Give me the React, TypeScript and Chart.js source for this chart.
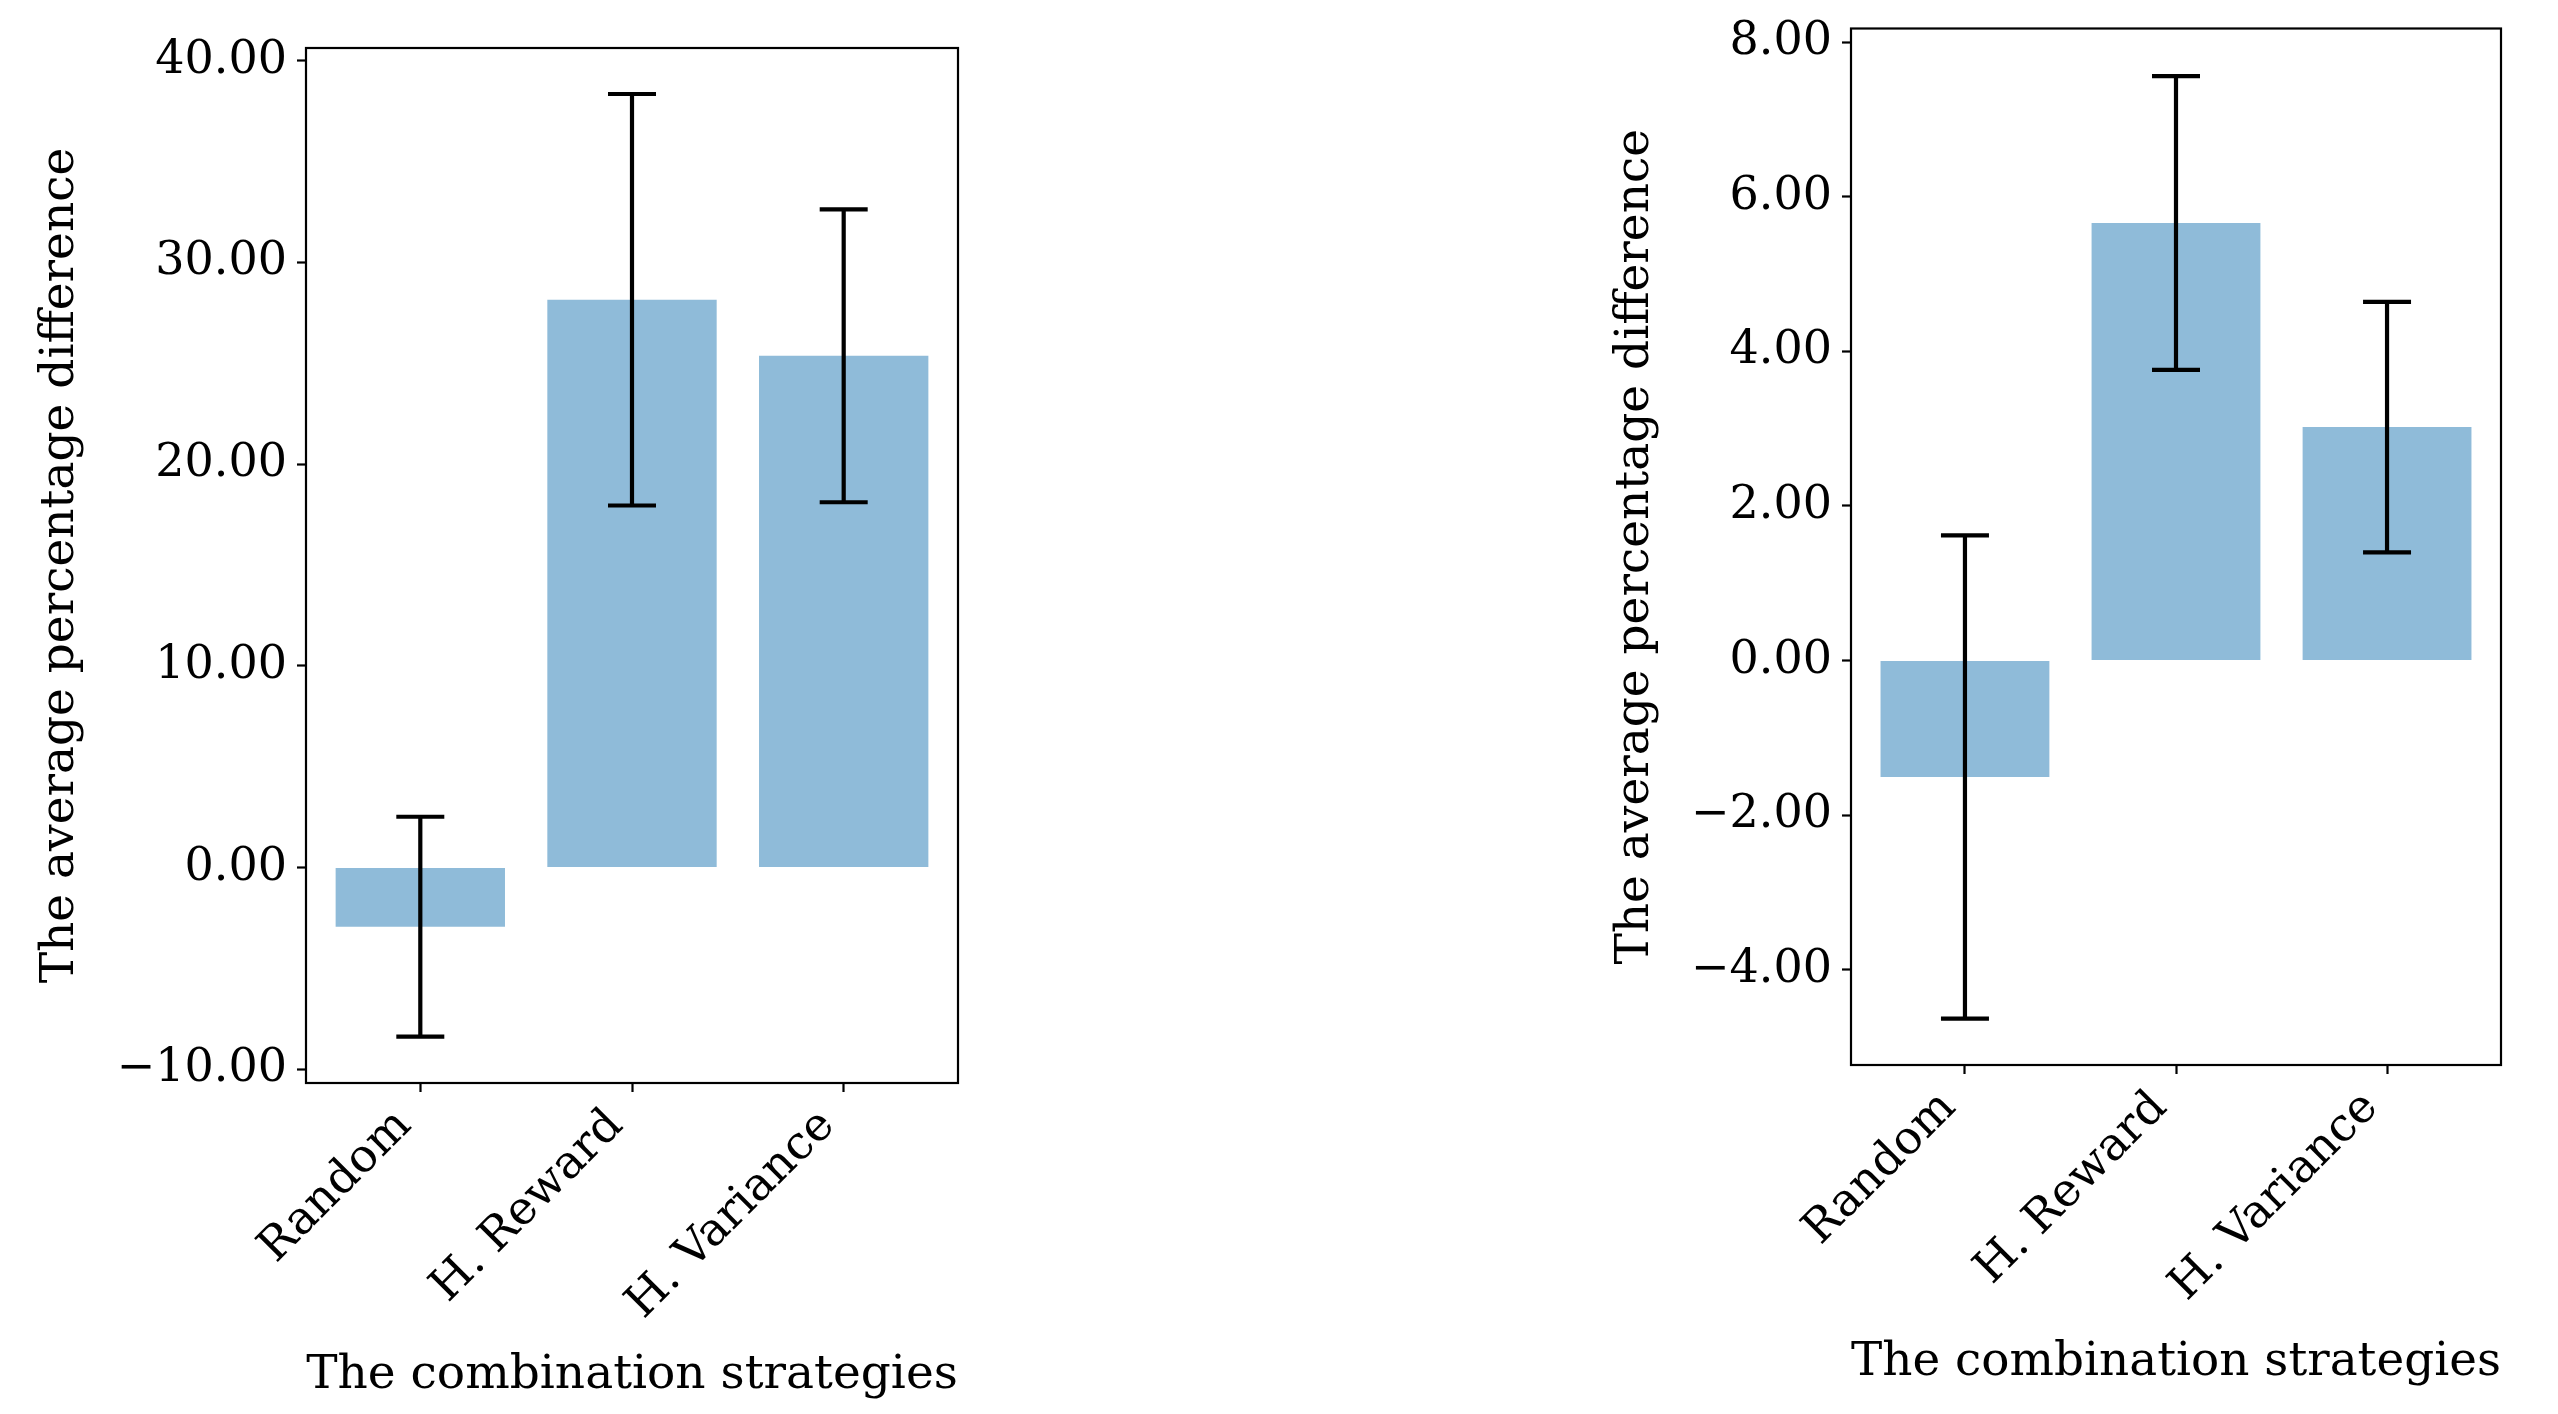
import React, { useEffect, useRef } from "react";
import { Chart, registerables } from "chart.js";

Chart.register(...registerables);

const categories = ["Random", "H. Reward", "H. Variance"];
const leftMeans = [-2.93, 28.15, 25.37];
const leftErrors = [5.45, 10.2, 7.26];
const rightMeans = [-1.505, 5.66, 3.02];
const rightErrors = [3.125, 1.9, 1.62];
const leftYTicks = [-10, 0, 10, 20, 30, 40];
const rightYTicks = [-4, -2, 0, 2, 4, 6, 8];
const leftYRange = [-10.68, 40.63];
const rightYRange = [-5.23, 8.175];
const xRange = [-0.54, 2.54];
const xTitle = "The combination strategies";
const yTitle = "The average percentage difference";

const FONT = "'DejaVu Serif', serif";
const BAR_COLOR = "rgba(31,119,180,0.5)";

type PanelProps = {
  left: number;
  width: number;
  means: number[];
  errors: number[];
  yTicks: number[];
  yRange: number[];
  padTop: number;
  padRight: number;
  yAxisWidth: number;
  xAxisHeight: number;
  yTitlePad: number;
  xTitlePad: number;
};

const fmt = (v: number) => (v < 0 ? "\u2212" + Math.abs(v).toFixed(2) : v.toFixed(2));

function Panel(p: PanelProps) {
  const ref = useRef<HTMLCanvasElement | null>(null);
  useEffect(() => {
    if (!ref.current) return;
    const errorBars = {
      id: "errorBars",
      afterDatasetsDraw(chart: any) {
        const ctx = chart.ctx;
        const xs = chart.scales.x;
        const ys = chart.scales.y;
        ctx.save();
        ctx.strokeStyle = "#000";
        ctx.lineWidth = 4.2;
        ctx.lineCap = "butt";
        p.means.forEach((m, i) => {
          const x = xs.getPixelForValue(i);
          const yt = ys.getPixelForValue(m + p.errors[i]);
          const yb = ys.getPixelForValue(m - p.errors[i]);
          ctx.beginPath();
          ctx.moveTo(x, yt);
          ctx.lineTo(x, yb);
          ctx.moveTo(x - 24, yt);
          ctx.lineTo(x + 24, yt);
          ctx.moveTo(x - 24, yb);
          ctx.lineTo(x + 24, yb);
          ctx.stroke();
        });
        const a = chart.chartArea;
        ctx.lineWidth = 2.2;
        ctx.strokeRect(a.left, a.top, a.right - a.left, a.bottom - a.top);
        ctx.restore();
      },
    };
    const chart = new Chart(ref.current, {
      type: "bar",
      data: {
        datasets: [
          {
            data: p.means.map((m, i) => ({ x: i, y: m })),
            backgroundColor: BAR_COLOR,
            borderWidth: 0,
            categoryPercentage: 1,
            barPercentage: 0.8,
          } as any,
        ],
      },
      plugins: [errorBars],
      options: {
        animation: false,
        responsive: false,
        devicePixelRatio: 1,
        layout: { padding: { top: p.padTop, right: p.padRight, left: 0, bottom: 0 } },
        plugins: { legend: { display: false }, tooltip: { enabled: false } },
        scales: {
          x: {
            type: "linear",
            min: xRange[0],
            max: xRange[1],
            offset: false,
            afterBuildTicks: (s: any) => {
              s.ticks = categories.map((_, i) => ({ value: i }));
            },
            afterFit: (s: any) => {
              s.height = p.xAxisHeight;
              s.paddingLeft = 0;
              s.paddingRight = 0;
            },
            grid: {
              display: true,
              offset: false,
              drawOnChartArea: false,
              drawTicks: true,
              tickLength: 9,
              tickWidth: 2.2,
              tickColor: "#000",
            },
            border: { display: false },
            ticks: {
              autoSkip: false,
              minRotation: 45,
              maxRotation: 45,
              padding: 7,
              labelOffset: -16,
              color: "#000",
              font: { family: FONT, size: 46 },
              callback: (v: any) => categories[Math.round(Number(v))] ?? "",
            },
            title: {
              display: true,
              text: xTitle,
              color: "#000",
              font: { family: FONT, size: 47 },
              padding: { top: 0, bottom: p.xTitlePad },
            },
          },
          y: {
            type: "linear",
            min: p.yRange[0],
            max: p.yRange[1],
            afterBuildTicks: (s: any) => {
              s.ticks = p.yTicks.map((v) => ({ value: v }));
            },
            afterFit: (s: any) => {
              s.width = p.yAxisWidth;
              s.paddingTop = 0;
              s.paddingBottom = 0;
            },
            grid: {
              display: true,
              drawOnChartArea: false,
              drawTicks: true,
              tickLength: 9,
              tickWidth: 2.2,
              tickColor: "#000",
            },
            border: { display: false },
            ticks: {
              padding: 10,
              color: "#000",
              font: { family: FONT, size: 46 },
              callback: (v: any) => fmt(Number(v)),
            },
            title: {
              display: true,
              text: yTitle,
              color: "#000",
              font: { family: FONT, size: 47 },
              padding: { top: p.yTitlePad, bottom: 0 },
            },
          },
        },
      } as any,
    });
    return () => chart.destroy();
  }, []);
  return (
    <canvas
      ref={ref}
      width={p.width}
      height={1414}
      style={{ position: "absolute", left: p.left, top: 0, width: p.width, height: 1414 }}
    />
  );
}

export default function App() {
  return (
    <div style={{ position: "fixed", left: 0, top: 0, width: 2558, height: 1414, background: "#fff" }}>
      <Panel
        left={0}
        width={1000}
        means={leftMeans}
        errors={leftErrors}
        yTicks={leftYTicks}
        yRange={leftYRange}
        padTop={48}
        padRight={42}
        yAxisWidth={306}
        xAxisHeight={331}
        yTitlePad={33}
        xTitlePad={10}
      />
      <Panel
        left={1560}
        width={998}
        means={rightMeans}
        errors={rightErrors}
        yTicks={rightYTicks}
        yRange={rightYRange}
        padTop={28.5}
        padRight={57}
        yAxisWidth={291}
        xAxisHeight={349}
        yTitlePad={48}
        xTitlePad={23}
      />
    </div>
  );
}
